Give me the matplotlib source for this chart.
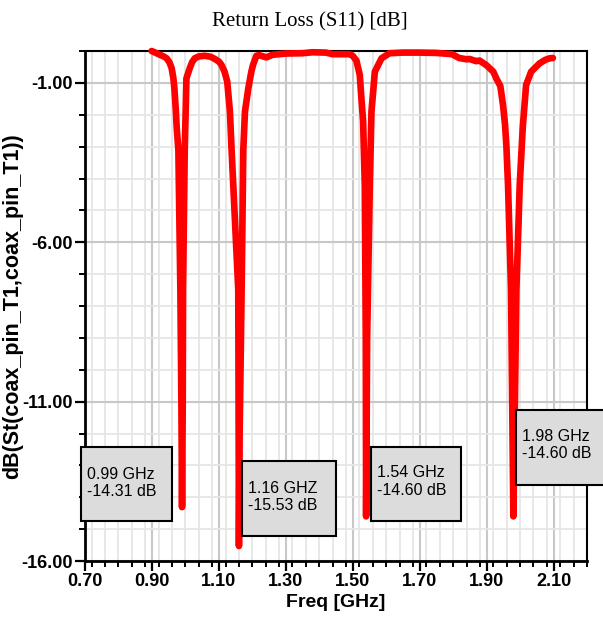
import matplotlib.pyplot as plt
from matplotlib import font_manager
from matplotlib.patches import Rectangle
from matplotlib.ticker import MultipleLocator, FormatStrFormatter

# S11 trace (GHz, dB)
freq = [0.899, 0.910, 0.924, 0.935, 0.944, 0.952, 0.959, 0.964, 0.967, 0.971,
        0.974, 0.979, 0.985, 0.988, 0.990, 0.992, 0.993, 0.998, 1.001, 1.003,
        1.013, 1.020, 1.028, 1.040, 1.058, 1.075, 1.088, 1.100, 1.108, 1.117,
        1.125, 1.133, 1.138, 1.148, 1.158, 1.160, 1.162, 1.168, 1.173, 1.178,
        1.188, 1.197, 1.202, 1.212, 1.220, 1.242, 1.260, 1.300, 1.350, 1.380,
        1.420, 1.440, 1.490, 1.500, 1.511, 1.521, 1.526, 1.531, 1.536, 1.539,
        1.540, 1.543, 1.551, 1.556, 1.566, 1.586, 1.610, 1.650, 1.700, 1.750,
        1.797, 1.818, 1.840, 1.849, 1.869, 1.879, 1.900, 1.909, 1.920, 1.929,
        1.941, 1.949, 1.955, 1.959, 1.964, 1.973, 1.980, 1.989, 1.999, 2.008,
        2.018, 2.033, 2.058, 2.075, 2.088, 2.098]
s11 = [-0.00, -0.05, -0.12, -0.17, -0.23, -0.35, -0.54, -0.85, -1.16, -1.80,
       -2.40, -3.10, -7.50, -11.00, -14.31, -11.00, -7.50, -3.10, -1.80, -0.86,
       -0.54, -0.35, -0.23, -0.17, -0.15, -0.18, -0.25, -0.33, -0.44, -0.65,
       -0.96, -1.90, -3.10, -5.30, -7.50, -15.53, -12.00, -7.50, -3.10, -1.90,
       -1.17, -0.65, -0.44, -0.15, -0.13, -0.20, -0.12, -0.08, -0.07, -0.04,
       -0.05, -0.10, -0.10, -0.15, -0.30, -0.75, -1.50, -2.20, -4.20, -9.00,
       -14.60, -9.00, -4.20, -1.90, -0.65, -0.23, -0.07, -0.05, -0.05, -0.06,
       -0.10, -0.22, -0.26, -0.25, -0.32, -0.30, -0.45, -0.54, -0.65, -0.86,
       -1.10, -1.69, -2.30, -2.95, -4.20, -7.50, -14.60, -7.50, -4.20, -2.40,
       -1.07, -0.65, -0.39, -0.28, -0.23, -0.22]

# marker labels as printed in the boxes
marker_text = ['0.99 GHz\n-14.31 dB', '1.16 GHZ\n-15.53 dB',
               '1.54 GHz\n-14.60 dB', '1.98 GHz\n-14.60 dB']
# box corners (x0, x1, y0, y1) in data units, text anchor (x, y)
boxes = [(0.688, 0.960, -14.76, -12.41), (1.170, 1.449, -15.20, -12.87),
         (1.554, 1.825, -14.76, -12.43), (1.987, 2.300, -13.60, -11.25)]
text_pos = [(0.706, -13.55), (1.186, -14.00), (1.572, -13.50), (2.005, -12.37)]

names = {f.name for f in font_manager.fontManager.ttflist}
if 'Liberation Sans Narrow' in names:
    narrow = 'Liberation Sans Narrow'
    tick_fs, box_fs = 15, 13
else:
    narrow = 'Liberation Sans'
    tick_fs, box_fs = 13, 11.5

fig = plt.figure(figsize=(6.03, 6.25), dpi=100)
ax = fig.add_axes([85 / 603, 1 - 561 / 625, 502 / 603, 510 / 625])

ax.plot(freq, s11, color='#ff0000', lw=4.8, solid_joinstyle='round',
        solid_capstyle='round', clip_on=False, zorder=3)

ax.set_xlim(0.7, 2.2)
ax.set_ylim(-16, 0)
ax.set_xticks([0.7, 0.9, 1.1, 1.3, 1.5, 1.7, 1.9, 2.1])
ax.set_yticks([-1, -6, -11, -16])
ax.xaxis.set_minor_locator(MultipleLocator(0.04))
ax.yaxis.set_minor_locator(MultipleLocator(1))
ax.xaxis.set_major_formatter(FormatStrFormatter('%.2f'))
ax.yaxis.set_major_formatter(FormatStrFormatter('%.2f'))

ax.set_axisbelow(True)
ax.grid(which='minor', color='#e6e6e6', lw=1.3)
ax.grid(which='major', color='#c8c8c8', lw=1.5)

ax.tick_params(which='major', direction='out', length=7, width=1.6, pad=1.5)
ax.tick_params(which='minor', direction='out', length=4, width=1.4)
for lab in ax.get_xticklabels() + ax.get_yticklabels():
    lab.set_fontfamily(narrow)
    lab.set_fontweight('bold')
    lab.set_fontsize(tick_fs)

for side in ['left', 'bottom']:
    ax.spines[side].set_linewidth(2)
for side in ['top', 'right']:
    ax.spines[side].set_linewidth(1.5)

ax.set_xlabel('Freq [GHz]', family=narrow, fontweight='bold', fontsize=14,
              labelpad=3)
ax.set_ylabel('dB(St(coax_pin_T1,coax_pin_T1))', family='Liberation Sans',
              fontweight='bold', fontsize=15.5)
ax.yaxis.set_label_coords(-0.1225, 0.5)

fig.text(310 / 603, 1 - 22 / 625, 'Return Loss (S11) [dB]', family='Liberation Serif',
         fontsize=15, ha='center', va='center')

for (x0, x1, y0, y1), (tx, ty), txt in zip(boxes, text_pos, marker_text):
    ax.add_patch(Rectangle((x0, y0), x1 - x0, y1 - y0, facecolor='#dcdcdc',
                           edgecolor='black', lw=1.5, clip_on=False, zorder=5))
    ax.text(tx, ty, txt, family=narrow, fontsize=box_fs, ha='left', va='center',
            zorder=6, clip_on=False)

fig.savefig('out.png', dpi=100)
